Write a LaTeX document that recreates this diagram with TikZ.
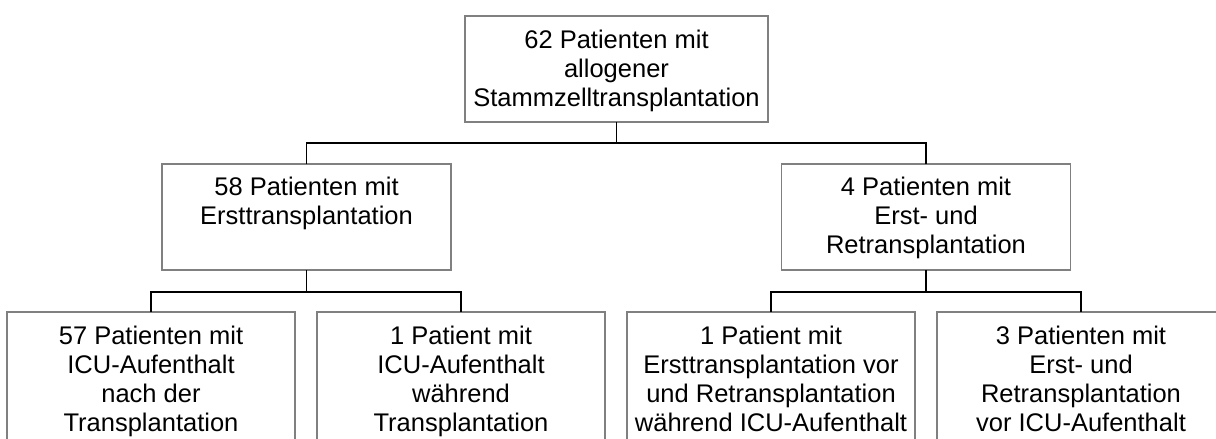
\documentclass[tikz,border=0pt]{standalone}
\usepackage{fontspec}
\setmainfont{Liberation Sans}
\begin{document}
\begin{tikzpicture}[x=1pt,y=-1pt,
  box/.style={draw={rgb,255:red,128;green,128;blue,128}, line width=1.6pt, fill=white, inner sep=0pt, outer sep=0pt},
  txt/.style={anchor=north, align=center, inner sep=0pt, font=\fontsize{25.5}{29}\selectfont},
  conn/.style={draw=black, line width=1.3pt}]
\clip (0,0) rectangle (1216,439);
\fill[white] (0,0) rectangle (1216,439);
% boxes
\node[box, minimum width=303pt, minimum height=106pt] (top) at (616.5,69) {};
\node[box, minimum width=289pt, minimum height=106pt] (l2l) at (306.5,217) {};
\node[box, minimum width=289pt, minimum height=106pt] (l2r) at (926,217) {};
\node[box, minimum width=288pt, minimum height=150pt] (b1) at (151,387) {};
\node[box, minimum width=288pt, minimum height=150pt] (b2) at (461,387) {};
\node[box, minimum width=288pt, minimum height=150pt] (b3) at (771,387) {};
\node[box, minimum width=288pt, minimum height=150pt] (b4) at (1081,387) {};
% texts
\node[txt] (ttop) at ([yshift=-14pt]top.north) {62 Patienten mit\\allogener\\Stammzelltransplantation};
\node[txt] (tl2l) at ([yshift=-13pt]l2l.north) {58 Patienten mit\\Ersttransplantation};
\node[txt] (tl2r) at ([yshift=-13pt]l2r.north) {4 Patienten mit\\Erst- und\\Retransplantation};
\node[txt] (tb1) at ([yshift=-14pt]b1.north) {57 Patienten mit\\ICU-Aufenthalt\\nach der\\Transplantation};
\node[txt] (tb2) at ([yshift=-14pt]b2.north) {1 Patient mit\\ICU-Aufenthalt\\während\\Transplantation};
\node[txt] (tb3) at ([yshift=-14pt]b3.north) {1 Patient mit\\Ersttransplantation vor\\und Retransplantation\\während ICU-Aufenthalt};
\node[txt] (tb4) at ([yshift=-14pt]b4.north) {3 Patienten mit\\Erst- und\\Retransplantation\\vor ICU-Aufenthalt};
% junctions
\coordinate (j1) at (616.5,143);
\coordinate (j2) at (306.5,292);
\coordinate (j3) at (926,292);
% connectors
\draw[conn] (top.south) -- (j1);
\draw[conn] (l2l.north) |- (j1) -| (l2r.north);
\draw[conn] (l2l.south) -- (j2);
\draw[conn] (b1.north) |- (j2) -| (b2.north);
\draw[conn] (l2r.south) -- (j3);
\draw[conn] (b3.north) |- (j3) -| (b4.north);
\end{tikzpicture}
\end{document}
